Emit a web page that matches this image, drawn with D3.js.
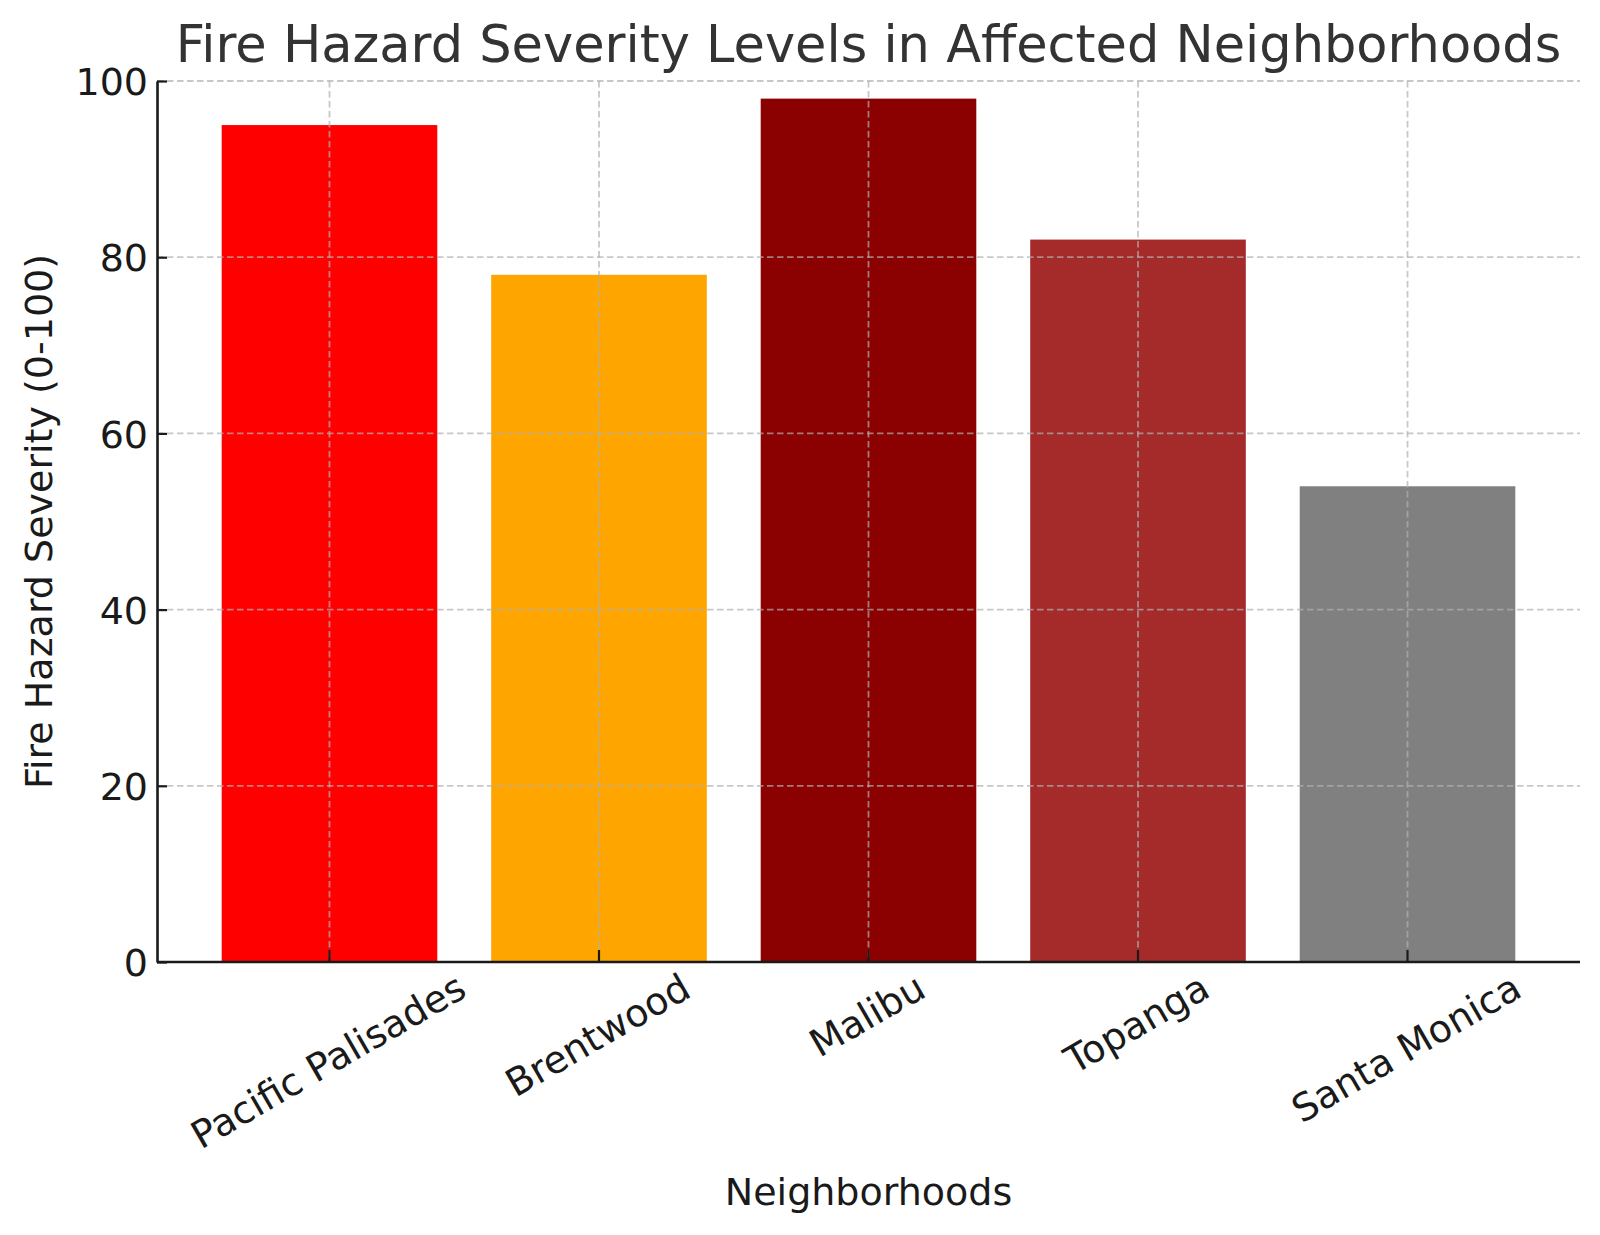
<!DOCTYPE html>
<html>
<head>
<meta charset="utf-8">
<script src="https://cdn.jsdelivr.net/npm/d3@7"></script>
<style>
  html, body { margin: 0; padding: 0; background: #fff; }
  svg { display: block; font-family: "DejaVu Sans", sans-serif; }
</style>
</head>
<body>
<svg id="chart" width="1600" height="1235"></svg>
<script>
// ---- data ----
const neighborhoods = ["Pacific Palisades", "Brentwood", "Malibu", "Topanga", "Santa Monica"];
const severity = [95, 78, 98, 82, 54];
const barColors = ["#ff0000", "#ffa500", "#8b0000", "#a52a2a", "#808080"];
const yTicks = [0, 20, 40, 60, 80, 100];
const titleText = "Fire Hazard Severity Levels in Affected Neighborhoods";
const xLabelText = "Neighborhoods";
const yLabelText = "Fire Hazard Severity (0-100)";

// ---- layout ----
const plotLeft = 157, plotRight = 1580, plotTop = 81, plotBottom = 962;
const fs = 38;
const svg = d3.select("#chart");

const x = d3.scaleBand().domain(neighborhoods).range([plotLeft, plotRight])
  .paddingInner(0.2).paddingOuter(0.24);
const y = d3.scaleLinear().domain([0, 100]).range([plotBottom, plotTop]);

// bars
svg.append("g").selectAll("rect").data(neighborhoods).join("rect")
  .attr("x", d => x(d))
  .attr("width", x.bandwidth())
  .attr("y", (d, i) => y(severity[i]))
  .attr("height", (d, i) => y(0) - y(severity[i]))
  .attr("fill", (d, i) => barColors[i]);

// grid (drawn above bars)
const grid = svg.append("g").attr("stroke", "#b0b0b0").attr("stroke-opacity", 0.7)
  .attr("stroke-width", 1.8).attr("stroke-dasharray", "6.5,3.5");
grid.selectAll("line.h").data(yTicks).join("line").attr("class", "h")
  .attr("x1", plotLeft).attr("x2", plotRight)
  .attr("y1", d => y(d)).attr("y2", d => y(d));
grid.selectAll("line.v").data(neighborhoods).join("line").attr("class", "v")
  .attr("x1", d => x(d) + x.bandwidth() / 2).attr("x2", d => x(d) + x.bandwidth() / 2)
  .attr("y1", plotTop).attr("y2", plotBottom);

// axes
const tickColor = "#1a1a1a";
const yAxis = svg.append("g").attr("transform", `translate(${plotLeft},0)`)
  .call(d3.axisLeft(y).tickValues(yTicks).tickSize(-10).tickPadding(9).tickSizeOuter(0));
yAxis.select(".domain").attr("stroke", tickColor).attr("stroke-width", 2.6);
yAxis.selectAll(".tick line").attr("stroke", tickColor).attr("stroke-width", 2.2);
yAxis.selectAll(".tick text").attr("font-size", fs).attr("fill", tickColor)
  .attr("font-family", "DejaVu Sans").attr("dy", "0.36em");

const xAxis = svg.append("g").attr("transform", `translate(0,${plotBottom})`)
  .call(d3.axisBottom(x).tickSize(-12).tickSizeOuter(0));
xAxis.select(".domain").attr("stroke", tickColor).attr("stroke-width", 2.6)
  .attr("d", `M${plotLeft},0H${plotRight}`);
xAxis.selectAll(".tick line").attr("stroke", tickColor).attr("stroke-width", 2.2);
xAxis.selectAll(".tick text").remove();

// rotated x tick labels: bbox centred on tick, top at fixed offset
const labelTop = 967;
const xl = svg.append("g");
neighborhoods.forEach(d => {
  const cx = x(d) + x.bandwidth() / 2;
  const t = xl.append("text").text(d)
    .attr("font-size", fs).attr("fill", tickColor)
    .attr("text-anchor", "middle").attr("dy", "0.28em");
  const w = t.node().getComputedTextLength();
  const h = fs * 1.164;
  const H = w * Math.sin(Math.PI / 6) + h * Math.cos(Math.PI / 6);
  const cy = labelTop + H / 2;
  t.attr("transform", `translate(${cx},${cy}) rotate(-30)`);
});

// axis labels
svg.append("text").text(xLabelText)
  .attr("x", (plotLeft + plotRight) / 2).attr("y", 1205)
  .attr("text-anchor", "middle").attr("font-size", fs).attr("fill", tickColor);

svg.append("text").text(yLabelText)
  .attr("transform", `translate(52,${(plotTop + plotBottom) / 2}) rotate(-90)`)
  .attr("text-anchor", "middle").attr("font-size", fs).attr("fill", tickColor);

// title
svg.append("text").text(titleText)
  .attr("x", (plotLeft + plotRight) / 2).attr("y", 62)
  .attr("text-anchor", "middle").attr("font-size", 51).attr("fill", "#333333");
</script>
</body>
</html>
